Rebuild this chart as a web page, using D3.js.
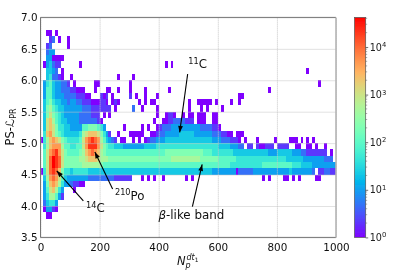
<!DOCTYPE html>
<html>
<head>
<meta charset="utf-8">
<script src="https://cdn.jsdelivr.net/npm/d3@7"></script>
<style>
  html, body { margin: 0; padding: 0; background: #fff; }
  svg { display: block; font-family: "DejaVu Sans", sans-serif; }
</style>
</head>
<body>
<div id="chart"></div>
<script>
// one string per row of the histogram, top row first. each char is one 10 wide x bin,
// '.' means empty, otherwise base 16 log10(count) * 3. spaces are only there for reading
var rowLowEdges = [6.7, 6.6, 6.5, 6.4, 6.3, 6.2, 6.1, 6.0, 5.9, 5.8, 5.7, 5.6, 5.5, 5.4, 5.3,
                   5.2, 5.1, 5.0, 4.9, 4.8, 4.7, 4.6, 4.5, 4.4, 4.3, 4.2, 4.1, 4.0, 3.9, 3.8];
var rowCodes = [
  "..00.0....",
  "...12.0..0",
  "..12.....0",
  "..233.....",
  "..330000..",
  ".034211... ...0...... .......... .......... ..0.0.....",
  "..4432.0.. .......... .......... .......... .......... .......... .......... .......... .......... 0.........",
  "..452210.. 0......... ......0... .0........",
  ".356433221 .0......00 .......... 0......... .......... .......... .......... .......... .......... ....0.....",
  ".366433222 11000...0. ..00..0... 0....0.... ...0...... .......... .......... .......0..",
  ".366433322 2211100... 101.0..... 1.0..0...0 .......... .......... .......00.",
  ".467544332 3322111000 110.010... ...0.0.00. .......... 0..00000.0 ....0..0..",
  ".478654433 3333222111 1111.0.... .2..0....0 .......... 0...0.0... .0........",
  ".479765433 3332222111 .0.0...... .........0 ..0110..0. 00.000..00",
  ".49a865443 3332222221 0......... ........0. .001122221 11.000..00",
  ".49a975544 3333667776 53......0. ....0.0..0 1222333333 3333222211 0.........",
  ".5ab976544 444589aaa9 7531..0... 00000..001 2233333444 4433333322 21100.000.",
  "058aba9765 55569bcdcb 864321.00. .0.0.01223 3344444444 4444444433 32221110.0 ...0.....0 ....000.0. 0.0.......",
  ".58abbb866 55669bdddb 9765544433 3333344445 5555555555 5555555555 444433322. 11.100111. 1111..00.. 00.0..0...",
  ".69bcdb976 66678abcba 8766666666 6666666666 6677777777 7777766655 5555544444 4444444333 4444433322 1111111.0.",
  ".69cedc977 777889aaa9 8887777777 7777777777 7777888888 8888777777 6666665555 5555555555 5554444443 333333222.",
  ".69cedc977 7777888888 7666666666 6666666666 6666666666 6666666666 6666555555 5555566666 6666655544 4433333333",
  "059cdca755 4555554444 4444444444 4444444444 4444444444 4444444433 3333330222 2233333333 3333433333 332.112211",
  ".48bcb9643 3333332222 2222211111 1...0.0.0. .0.......0 .0........ .......... .....0.0.. ..00.0.0.. ...00.....",
  ".37aba8533 21100.....",
  ".369a853.. .0........",
  ".3588631..",
  ".24553....",
  ".03310....",
  "..00......"
];
var xTicks = [0, 200, 400, 600, 800, 1000];
var yTicks = [3.5, 4.0, 4.5, 5.0, 5.5, 6.0, 6.5, 7.0];
var colorTicks = [1, 10, 100, 1000, 10000];
var colorMinorTicks = [2, 3, 4, 5, 6, 7, 8, 9, 20, 30, 40, 50, 60, 70, 80, 90, 200, 300, 400, 500, 600, 700, 800, 900,
                       2000, 3000, 4000, 5000, 6000, 7000, 8000, 9000, 20000, 30000, 40000];
var maxCount = 41800;
var xBinWidth = 10;
var yBinWidth = 0.1;

// annotations in data coordinates: [tip x, tip y, tail x, tail y]
var arrows = [
  [471, 5.17, 498, 6.1],
  [55, 4.56, 145, 4.08],
  [184, 4.86, 244, 4.27],
  [547, 4.66, 514, 3.99]
];
var labels = [
  {sup: "11", main: "C", x: 500, y: 6.19},
  {sup: "14", main: "C", x: 154, y: 3.9},
  {sup: "210", main: "Po", x: 252, y: 4.1}
];

(function() {

  init();

  function rainbow(t) {
    var r = Math.min(1, Math.abs(2 * t - 0.5));
    var g = Math.sin(Math.PI * t);
    var b = Math.cos(Math.PI * t / 2);
    return d3.rgb(r * 255, g * 255, b * 255).formatHex();
  }

  function init() {
    var width = 415;
    var height = 277;

    var svg = d3.select('#chart')
      .append('svg')
      .attr('width', width)
      .attr('height', height);

    var defs = svg.append('defs');
    var soften = defs.append('filter').attr('id', 'soften')
      .attr('filterUnits', 'userSpaceOnUse')
      .attr('x', 0).attr('y', 0)
      .attr('width', width).attr('height', height);
    soften.append('feGaussianBlur').attr('stdDeviation', 0.35);

    var root = svg.append('g').attr('filter', 'url(#soften)');
    root.append('rect').attr('width', width).attr('height', height).attr('fill', '#fff');

    var x = d3.scaleLinear().domain([0, 1000]).range([40.5, 336]);
    var y = d3.scaleLinear().domain([3.5, 7]).range([237.4, 17.4]);
    var color = d3.scaleSequentialLog(rainbow).domain([1, maxCount]).clamp(true);

    var cells = [];
    rowCodes.forEach(function(code, r) {
      code.replace(/ /g, '').split('').forEach(function(c, i) {
        if (c === '.') return;
        cells.push({
          x0: i * xBinWidth,
          y0: rowLowEdges[r],
          count: Math.pow(10, parseInt(c, 16) / 3)
        });
      });
    });

    // grid sits above the cells, same as the original
    root.append('g').selectAll('rect')
      .data(cells)
      .enter()
      .append('rect')
      .attr('x', function(d) { return x(d.x0); })
      .attr('y', function(d) { return y(d.y0 + yBinWidth); })
      .attr('width', function(d) { return x(d.x0 + xBinWidth) - x(d.x0); })
      .attr('height', function(d) { return y(d.y0) - y(d.y0 + yBinWidth); })
      .attr('shape-rendering', 'crispEdges')
      .attr('fill', function(d) { return color(d.count); });

    var xAxis = root.append('g')
      .attr('transform', 'translate(0,' + y(3.5) + ')')
      .call(d3.axisBottom(x).tickValues(xTicks).tickSize(y(7) - y(3.5)).tickFormat(d3.format('d')));
    var yAxis = root.append('g')
      .attr('transform', 'translate(' + x(0) + ',0)')
      .call(d3.axisLeft(y).tickValues(yTicks).tickSize(x(0) - x(1000)).tickFormat(d3.format('.1f')));

    [xAxis, yAxis].forEach(function(a) {
      a.select('.domain').remove();
      a.selectAll('line').attr('stroke', '#c4c4c4').attr('stroke-width', 1).attr('stroke-dasharray', '1,1');
      a.selectAll('text').attr('font-size', 10.4).attr('font-family', '"DejaVu Sans"').attr('fill', '#111');
    });
    xAxis.selectAll('text').attr('y', 6).attr('dy', '0.71em');
    yAxis.selectAll('text').attr('x', -3);

    // spines
    root.append('path')
      .attr('d', 'M' + x(0) + ',' + y(7) + 'H' + x(1000) + 'M' + x(0) + ',' + y(7) + 'V' + y(3.5) + 'H' + x(1000))
      .attr('fill', 'none').attr('stroke', '#666').attr('stroke-width', 0.9);
    root.append('line')
      .attr('x1', x(1000)).attr('x2', x(1000)).attr('y1', y(7)).attr('y2', y(3.5))
      .attr('stroke', '#b4b4b4').attr('stroke-width', 1.6);

    // arrows
    var headLen = 6.5;
    var headHalf = 2.4;
    var marks = root.append('g');
    marks.selectAll('line')
      .data(arrows)
      .enter()
      .append('line')
      .attr('x1', function(d) { return x(d[0]); })
      .attr('y1', function(d) { return y(d[1]); })
      .attr('x2', function(d) { return x(d[2]); })
      .attr('y2', function(d) { return y(d[3]); })
      .attr('stroke', '#000').attr('stroke-width', 1.1);
    marks.selectAll('path')
      .data(arrows)
      .enter()
      .append('path')
      .attr('fill', '#000')
      .attr('d', function(d) {
        var tx = x(d[0]), ty = y(d[1]);
        var a = Math.atan2(y(d[3]) - ty, x(d[2]) - tx);
        var bx = tx + headLen * Math.cos(a), by = ty + headLen * Math.sin(a);
        var px = -Math.sin(a) * headHalf, py = Math.cos(a) * headHalf;
        return 'M' + tx + ',' + ty + 'L' + (bx + px) + ',' + (by + py) + 'L' + (bx - px) + ',' + (by - py) + 'Z';
      });

    // isotope labels
    labels.forEach(function(l) {
      var t = root.append('text').attr('x', x(l.x)).attr('y', y(l.y)).attr('font-size', 11.8).attr('fill', '#111');
      t.append('tspan').attr('font-size', 8.2).attr('dy', -4.5).text(l.sup);
      t.append('tspan').attr('dy', 4.5).text(l.main);
    });
    var band = root.append('text').attr('x', x(399)).attr('y', y(3.79)).attr('font-size', 11.9).attr('fill', '#111');
    band.append('tspan').attr('font-style', 'italic').text('β');
    band.append('tspan').text('-like band');

    // axis titles
    var yTitle = root.append('text')
      .attr('transform', 'translate(14,127) rotate(-90)')
      .attr('text-anchor', 'middle').attr('font-size', 11.5).attr('fill', '#111');
    yTitle.append('tspan').text('PS-');
    yTitle.append('tspan').attr('font-style', 'italic').text('ℒ');
    yTitle.append('tspan').attr('font-size', 8).attr('dy', 2).text('PR');

    var xTitle = root.append('text').attr('x', 177).attr('y', 265).attr('font-size', 11.5).attr('fill', '#111').attr('font-style', 'italic');
    xTitle.append('tspan').text('N');
    xTitle.append('tspan').attr('font-size', 8).attr('x', 186.5).attr('dy', -5).text('dt');
    xTitle.append('tspan').attr('font-size', 6).attr('font-style', 'normal').attr('dy', 1.5).text('1');
    xTitle.append('tspan').attr('font-size', 8).attr('x', 185.5).attr('dy', 6).text('p');

    // colorbar
    var barScale = d3.scaleLog().domain([1, maxCount]).range([237.4, 17.4]);
    var grad = defs.append('linearGradient').attr('id', 'barGrad')
      .attr('x1', 0).attr('x2', 0).attr('y1', 1).attr('y2', 0);
    grad.selectAll('stop')
      .data(d3.range(0, 1.001, 0.05))
      .enter()
      .append('stop')
      .attr('offset', function(d) { return d; })
      .attr('stop-color', rainbow);
    root.append('rect')
      .attr('x', 354.5).attr('y', barScale(maxCount)).attr('width', 11.2).attr('height', barScale(1) - barScale(maxCount))
      .attr('fill', 'url(#barGrad)').attr('stroke', '#555').attr('stroke-width', 0.7);

    var barAxis = root.append('g')
      .attr('transform', 'translate(365.7,0)')
      .call(d3.axisRight(barScale).tickValues(colorTicks).tickSize(2.5).tickPadding(1.5).tickFormat(function() { return ''; }));
    barAxis.select('.domain').remove();
    barAxis.selectAll('line').attr('stroke', '#333').attr('stroke-width', 0.7);
    barAxis.selectAll('.tick').each(function(d) {
      var t = d3.select(this).select('text').attr('dy', '0.32em').attr('font-size', 9.6).attr('fill', '#222').attr('font-family', '"DejaVu Sans"');
      t.append('tspan').text('10');
      t.append('tspan').attr('font-size', 6.8).attr('dy', -3.5).text(Math.round(Math.log10(d)));
    });
    root.append('g').selectAll('line')
      .data(colorMinorTicks)
      .enter()
      .append('line')
      .attr('x1', 365.7).attr('x2', 367.2)
      .attr('y1', barScale).attr('y2', barScale)
      .attr('stroke', '#555').attr('stroke-width', 0.5);
  }

})();
</script>
</body>
</html>
